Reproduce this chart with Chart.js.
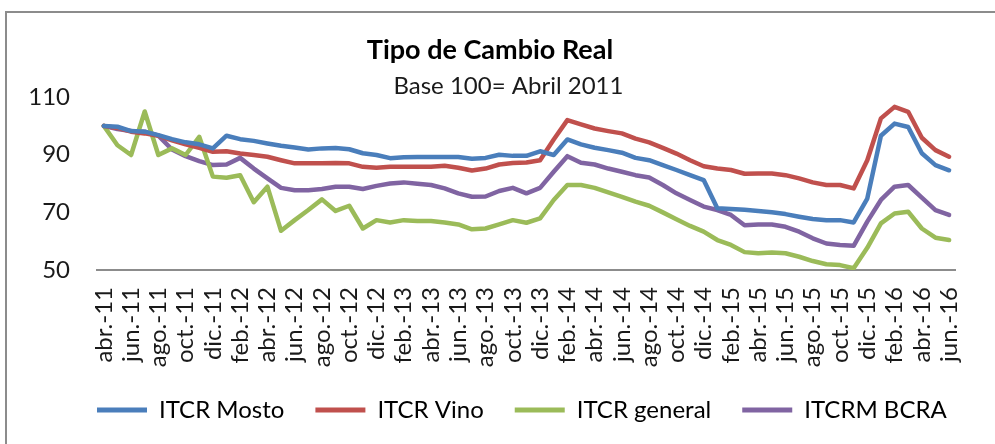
<!DOCTYPE html>
<html>
<head>
<meta charset="utf-8">
<title>Tipo de Cambio Real</title>
<script src="https://cdn.jsdelivr.net/npm/chart.js@4.4.1/dist/chart.umd.min.js"></script>
<style>
  html, body { margin: 0; padding: 0; background: #fff; overflow: hidden; }
  #wrap { position: relative; width: 995px; height: 444px; }
  #frame { position: absolute; left: 5px; top: 11px; width: 1000px; height: 1000px; border: 2px solid #8c8c8c; }
  canvas { position: absolute; left: 0; top: 0; }
</style>
</head>
<body>
<div id="wrap">
  <div id="frame"></div>
  <canvas id="chart" width="995" height="444"></canvas>
</div>
<script>
// --- Data ---
const months = [
  'abr.-11', 'may.-11', 'jun.-11', 'jul.-11', 'ago.-11', 'sep.-11', 'oct.-11', 'nov.-11', 'dic.-11',
  'ene.-12', 'feb.-12', 'mar.-12', 'abr.-12', 'may.-12', 'jun.-12', 'jul.-12', 'ago.-12', 'sep.-12', 'oct.-12', 'nov.-12', 'dic.-12',
  'ene.-13', 'feb.-13', 'mar.-13', 'abr.-13', 'may.-13', 'jun.-13', 'jul.-13', 'ago.-13', 'sep.-13', 'oct.-13', 'nov.-13', 'dic.-13',
  'ene.-14', 'feb.-14', 'mar.-14', 'abr.-14', 'may.-14', 'jun.-14', 'jul.-14', 'ago.-14', 'sep.-14', 'oct.-14', 'nov.-14', 'dic.-14',
  'ene.-15', 'feb.-15', 'mar.-15', 'abr.-15', 'may.-15', 'jun.-15', 'jul.-15', 'ago.-15', 'sep.-15', 'oct.-15', 'nov.-15', 'dic.-15',
  'ene.-16', 'feb.-16', 'mar.-16', 'abr.-16', 'may.-16', 'jun.-16'
];

const itcrMosto = [
  100.0, 99.7, 98.2, 98.0, 96.8, 95.4, 94.3, 93.6, 92.2,
  96.6, 95.4, 94.8, 93.9, 93.1, 92.5, 91.8, 92.2, 92.3, 91.9, 90.5, 89.9,
  88.8, 89.1, 89.2, 89.2, 89.2, 89.2, 88.6, 88.9, 90.0, 89.6, 89.6, 91.2,
  89.9, 95.3, 93.6, 92.4, 91.6, 90.7, 88.9, 88.1, 86.4, 84.7, 82.9, 81.2,
  71.4, 71.2, 70.9, 70.5, 70.0, 69.4, 68.5, 67.7, 67.3, 67.3, 66.5, 74.8,
  96.6, 100.8, 99.6, 90.5, 86.4, 84.6
];

const itcrVino = [
  100.0, 99.3, 98.0, 97.4, 96.6, 95.0, 93.6, 92.4, 91.0,
  91.2, 90.4, 89.9, 89.3, 88.1, 87.0, 87.0, 87.0, 87.1, 87.0, 85.8, 85.5,
  85.8, 85.8, 85.8, 85.8, 86.2, 85.5, 84.5, 85.2, 86.6, 87.1, 87.3, 88.1,
  95.3, 102.0, 100.5, 99.1, 98.2, 97.4, 95.6, 94.3, 92.4, 90.4, 88.1, 86.0,
  85.2, 84.7, 83.4, 83.5, 83.5, 82.9, 81.8, 80.4, 79.5, 79.5, 78.3, 88.1,
  102.6, 106.6, 104.9, 95.9, 91.6, 89.3
];

const itcrGeneral = [
  100.0, 93.3, 89.9, 105.0, 89.9, 92.2, 89.9, 96.2, 82.4,
  82.0, 82.9, 73.5, 78.9, 63.6, 67.3, 70.8, 74.5, 70.5, 72.3, 64.4, 67.3,
  66.5, 67.3, 67.0, 67.0, 66.5, 65.8, 64.1, 64.4, 65.8, 67.3, 66.4, 67.9,
  74.3, 79.5, 79.5, 78.5, 76.9, 75.4, 73.7, 72.3, 70.0, 67.6, 65.3, 63.3,
  60.4, 58.7, 56.2, 55.8, 56.1, 55.8, 54.6, 53.1, 52.0, 51.7, 50.6, 57.7,
  66.2, 69.6, 70.2, 64.4, 61.2, 60.4
];

const itcrmBcra = [
  100.0, 98.9, 98.2, 98.0, 96.6, 91.8, 89.5, 87.8, 86.4,
  86.6, 88.9, 85.2, 81.8, 78.5, 77.7, 77.7, 78.1, 78.9, 78.9, 78.1, 79.2,
  80.0, 80.4, 79.9, 79.5, 78.3, 76.6, 75.4, 75.5, 77.4, 78.5, 76.6, 78.5,
  84.1, 89.5, 87.2, 86.6, 85.2, 84.1, 82.9, 82.1, 79.5, 76.6, 74.3, 72.0,
  70.8, 69.1, 65.5, 65.8, 65.8, 65.0, 63.3, 61.0, 59.2, 58.7, 58.4, 66.8,
  74.3, 78.9, 79.5, 75.1, 70.8, 69.1
];

const seriesNames = ['ITCR Mosto', 'ITCR Vino', 'ITCR general', 'ITCRM BCRA'];
const seriesColors = ['#4a7ebb', '#c0504d', '#9bbb59', '#8064a2'];
const yTicks = [50, 70, 90, 110];

const FONT = 'Lato, "Open Sans", sans-serif';

// legend sits under the plot, starting at the plot's left edge
const legendShift = {
  id: 'legendShift',
  afterLayout(chart) {
    chart.legend.left = 66;
    chart.legend.right = 1200;
    chart.legend.top = 367;
  }
};

const datasets = [itcrMosto, itcrVino, itcrGeneral, itcrmBcra].map((vals, i) => ({
  label: seriesNames[i],
  data: vals,
  borderColor: seriesColors[i],
  backgroundColor: seriesColors[i],
  borderWidth: 4.5,
  pointRadius: 0,
  tension: 0,
  borderJoinStyle: 'round',
  borderCapStyle: 'round'
}));

new Chart(document.getElementById('chart'), {
  type: 'line',
  data: { labels: months, datasets: datasets },
  plugins: [legendShift],
  options: {
    responsive: false,
    animation: false,
    devicePixelRatio: 1,
    layout: { padding: { left: 0, right: 15, top: 0, bottom: 0 } },
    plugins: {
      title: {
        display: true,
        text: 'Tipo de Cambio Real',
        color: '#000',
        font: { family: FONT, size: 27, weight: 'bold', lineHeight: 1 },
        padding: { top: 37, bottom: 11 }
      },
      subtitle: {
        display: true,
        text: '      Base 100= Abril 2011',
        color: '#1a1a1a',
        font: { family: FONT, size: 24, lineHeight: 0.92 },
        padding: { top: 0, bottom: 0 }
      },
      legend: {
        position: 'bottom',
        align: 'start',
        labels: {
          color: '#1a1a1a',
          font: { family: FONT, size: 24 },
          boxWidth: 50,
          boxHeight: 5,
          padding: 31,
          useBorderRadius: true,
          borderRadius: 2.5,
          generateLabels: chart => chart.data.datasets.map((ds, i) => ({
            text: ds.label,
            fillStyle: ds.borderColor,
            strokeStyle: ds.borderColor,
            lineWidth: 0,
            datasetIndex: i
          }))
        }
      },
      tooltip: { enabled: false }
    },
    scales: {
      x: {
        offset: true,
        grid: { display: false, drawTicks: false },
        border: { display: true, color: '#8c8c8c', width: 2 },
        afterFit: s => { s.height = 109; },
        ticks: {
          autoSkip: false,
          minRotation: 90,
          maxRotation: 90,
          padding: 17,
          color: '#1a1a1a',
          font: { family: FONT, size: 24 },
          callback: function (val, i) { return i % 2 === 0 ? this.getLabelForValue(val) : ''; }
        }
      },
      y: {
        min: 50,
        max: 110,
        grid: { display: false, drawTicks: false },
        border: { display: false },
        afterFit: s => { s.width = 97; },
        afterBuildTicks: s => { s.ticks = yTicks.map(v => ({ value: v })); },
        ticks: {
          padding: 27,
          crossAlign: 'near',
          color: '#1a1a1a',
          font: { family: FONT, size: 24 }
        }
      }
    }
  }
});
</script>
</body>
</html>
